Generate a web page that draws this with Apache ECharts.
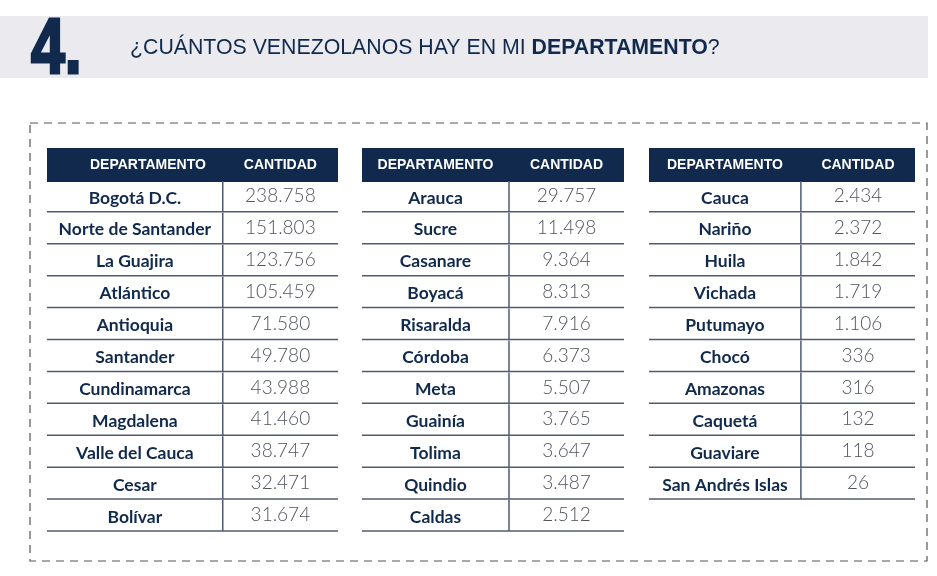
<!DOCTYPE html>
<html>
<head>
<meta charset="utf-8">
<script src="https://cdn.jsdelivr.net/npm/echarts@6/dist/echarts.min.js"></script>
<style>
html,body{margin:0;padding:0;background:#fff;}
#main{width:937px;height:576px;}
</style>
</head>
<body>
<div id="main"></div>
<script>
// datos por tabla
var encabezados=['DEPARTAMENTO','CANTIDAD'];
var deptos1=['Bogotá D.C.','Norte de Santander','La Guajira','Atlántico','Antioquia','Santander','Cundinamarca','Magdalena','Valle del Cauca','Cesar','Bolívar'];
var cant1=[238758,151803,123756,105459,71580,49780,43988,41460,38747,32471,31674];
var deptos2=['Arauca','Sucre','Casanare','Boyacá','Risaralda','Córdoba','Meta','Guainía','Tolima','Quindio','Caldas'];
var cant2=[29757,11498,9364,8313,7916,6373,5507,3765,3647,3487,2512];
var deptos3=['Cauca','Nariño','Huila','Vichada','Putumayo','Chocó','Amazonas','Caquetá','Guaviare','San Andrés Islas'];
var cant3=[2434,2372,1842,1719,1106,336,316,132,118,26];

var azul='#10294d';
var linea='#4d5b73';

function formato(n){
	return String(n).replace(/\B(?=(\d{3})+(?!\d))/g,'.');
}

// filas de cada tabla: [fila, departamento, cantidad], fila 0 = encabezado
function filas(deptos,cant){
	var d=[[0,encabezados[0],encabezados[1]]];
	for(var i=0;i<deptos.length;i++){
		d.push([i+1,deptos[i],formato(cant[i])]);
	}
	return d;
}

function renderTabla(corte,despHeader){
	return function(params,api){
		var fila=api.value(0);
		var izq=api.coord([0,fila]);
		var der=api.coord([1,fila]);
		var mid=api.coord([corte,fila]);
		var h=api.size([0,1])[1];
		var top=izq[1]-h/2, bot=izq[1]+h/2;
		var item=opcionesData[params.seriesIndex][params.dataIndex];
		var children=[];
		if(fila===0){
			children.push({type:'rect',shape:{x:izq[0],y:top,width:der[0]-izq[0],height:h+2},style:{fill:azul}});
			children.push({type:'text',style:{text:item[1],x:(izq[0]+mid[0])/2+despHeader,y:izq[1]+1,align:'center',verticalAlign:'middle',fill:'#fff',fontSize:14,fontWeight:'bold',fontFamily:'Liberation Sans, Arial'}});
			children.push({type:'text',style:{text:item[2],x:(mid[0]+der[0])/2,y:izq[1]+1,align:'center',verticalAlign:'middle',fill:'#fff',fontSize:14,fontWeight:'bold',fontFamily:'Liberation Sans, Arial'}});
		}else{
			children.push({type:'line',shape:{x1:mid[0],y1:top+1,x2:mid[0],y2:bot},style:{stroke:linea,lineWidth:1.5}});
			children.push({type:'line',shape:{x1:izq[0],y1:bot,x2:der[0],y2:bot},style:{stroke:linea,lineWidth:1.5}});
			children.push({type:'text',style:{text:item[1],x:(izq[0]+mid[0])/2,y:izq[1]+2,align:'center',verticalAlign:'middle',fill:azul,fontSize:17.5,fontWeight:'bold',fontFamily:'Lato'}});
			children.push({type:'text',style:{text:item[2],x:(mid[0]+der[0])/2,y:izq[1],align:'center',verticalAlign:'middle',fill:'#50555c',fontSize:19,fontWeight:300,fontFamily:'Lato'}});
		}
		return {type:'group',children:children};
	};
}

var opcionesData=[filas(deptos1,cant1),filas(deptos2,cant2),filas(deptos3,cant3)];
var tablas=[
	{left:47,width:291,corte:0.604,desp:13},
	{left:362,width:262,corte:0.561,desp:0},
	{left:649,width:266,corte:0.571,desp:0}
];

var grids=[],xAxes=[],yAxes=[],series=[];
for(var t=0;t<tablas.length;t++){
	grids.push({left:tablas[t].left,width:tablas[t].width,top:148,height:383});
	xAxes.push({gridIndex:t,type:'value',min:0,max:1,show:false});
	yAxes.push({gridIndex:t,type:'value',min:-0.5,max:11.5,inverse:true,show:false});
	series.push({
		type:'custom',
		xAxisIndex:t,
		yAxisIndex:t,
		renderItem:renderTabla(tablas[t].corte,tablas[t].desp),
		encode:{y:0},
		data:opcionesData[t],
		silent:true
	});
}

var chart=echarts.init(document.getElementById('main'));
chart.setOption({
	backgroundColor:'#ffffff',
	animation:false,
	graphic:[
		{type:'rect',shape:{x:0,y:16,width:928,height:62},style:{fill:'#ebebef'}},
		{type:'text',x:31,y:51,scaleX:0.78,style:{text:'4.',x:0,y:0,verticalAlign:'middle',fill:azul,stroke:azul,lineWidth:3,fontSize:78,fontWeight:'bold',fontFamily:'Liberation Sans'}},
		{type:'text',style:{
			text:'{a|¿CUÁNTOS VENEZOLANOS HAY EN MI }{b|DEPARTAMENTO}{a|?}',
			x:130,y:48,verticalAlign:'middle',
			rich:{
				a:{fontSize:21.3,fontFamily:'Liberation Sans',fill:azul,color:azul},
				b:{fontSize:21.3,fontFamily:'Liberation Sans',fontWeight:'bold',fill:azul,color:azul}
			}
		}},
		{type:'rect',shape:{x:30,y:123,width:897,height:438},style:{fill:'none',stroke:'#555',lineWidth:1.2,lineDash:[8,6]}}
	],
	grid:grids,
	xAxis:xAxes,
	yAxis:yAxes,
	series:series
});
</script>
</body>
</html>
